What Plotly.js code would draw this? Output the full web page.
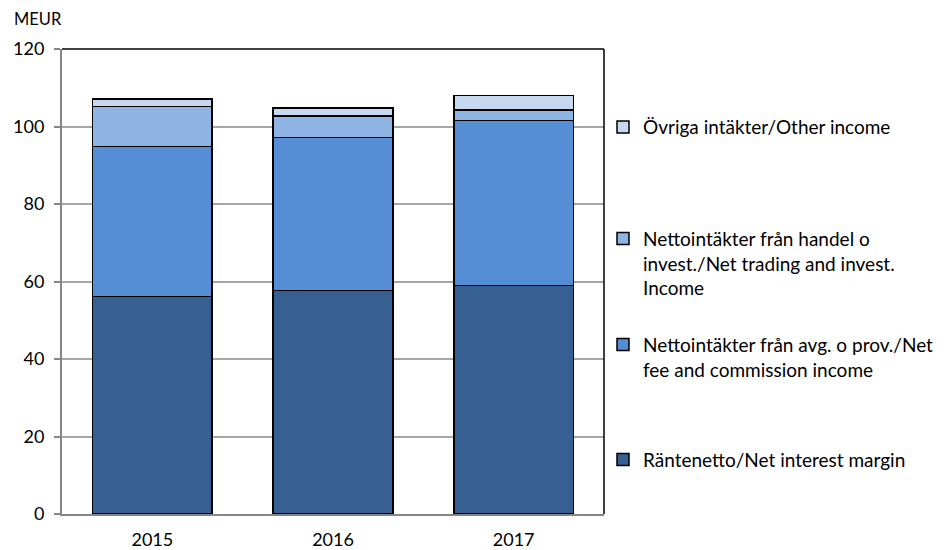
<!DOCTYPE html>
<html>
<head>
<meta charset="utf-8">
<script src="https://cdn.plot.ly/plotly-3.0.1.min.js"></script>
<style>html,body{margin:0;padding:0;background:#fff;}#chart{width:949px;height:550px;}</style>
</head>
<body>
<div id="chart"></div>
<script>
const years = ['2015', '2016', '2017'];
const interestMargin = [56.1, 57.7, 59.0];
const feeCommission = [38.7, 39.5, 42.5];
const tradingInvest = [10.3, 5.5, 2.8];
const otherIncome = [2.0, 2.1, 3.7];

const names = [
  'Räntenetto/Net interest margin',
  'Nettointäkter från avg. o prov./Net<br>fee and commission income',
  'Nettointäkter från handel o<br>invest./Net trading and invest.<br>Income',
  'Övriga intäkter/Other income'
];
const colors = ['#366092', '#558ED5', '#8EB4E3', '#C6D9F1'];
const series = [interestMargin, feeCommission, tradingInvest, otherIncome];
const legendIds = ['legend4', 'legend3', 'legend2', 'legend'];

const FONT = 'Lato, "Open Sans", sans-serif';

const traces = series.map((vals, i) => ({
  type: 'bar',
  x: years,
  y: vals,
  name: names[i],
  legend: legendIds[i],
  showlegend: true,
  marker: {color: colors[i], line: {color: '#000000', width: 1.5}},
  hoverinfo: 'x+y+name'
}));

const legendBase = {
  xref: 'container', x: 0.6354, xanchor: 'left', yanchor: 'top',
  bgcolor: 'rgba(0,0,0,0)',
  font: {family: FONT, size: 19, color: '#000'},
  valign: 'top',
  itemwidth: 30,
  tracegroupgap: 0,
  visible: true
};

const layout = {
  width: 949, height: 550,
  margin: {l: 62, r: 345, t: 49, b: 36, autoexpand: false},
  paper_bgcolor: '#fff', plot_bgcolor: '#fff',
  barmode: 'stack',
  bargap: 0.337,
  showlegend: true,
  font: {family: FONT, size: 18, color: '#000'},
  xaxis: {
    type: 'category',
    showline: true, linecolor: '#868686', linewidth: 2,
    ticks: '', showgrid: false,
    tickfont: {family: FONT, size: 18},
    ticklabelstandoff: 8
  },
  yaxis: {
    range: [0, 120], dtick: 20,
    showline: true, linecolor: '#868686', linewidth: 2,
    ticks: 'outside', ticklen: 6, tickcolor: '#868686', tickwidth: 1.5,
    showgrid: true, gridcolor: '#A6A6A6', gridwidth: 1.5,
    zeroline: false,
    tickfont: {family: FONT, size: 18},
    ticklabelstandoff: 6
  },
  legend: Object.assign({}, legendBase, {y: 0.873}),
  legend2: Object.assign({}, legendBase, {y: 0.633}),
  legend3: Object.assign({}, legendBase, {y: 0.405}),
  legend4: Object.assign({}, legendBase, {y: 0.158}),
  shapes: [
    {type: 'line', xref: 'paper', yref: 'paper', x0: 0, x1: 1, y0: 1, y1: 1, line: {color: '#000', width: 1.5}},
    {type: 'line', xref: 'paper', yref: 'paper', x0: 1, x1: 1, y0: 0, y1: 1, line: {color: '#000', width: 1.5}}
  ],
  annotations: [
    {text: 'MEUR', xref: 'paper', yref: 'paper', x: -0.092, y: 1.038, xanchor: 'left', yanchor: 'bottom', showarrow: false, font: {family: FONT, size: 16.5, color: '#000'}}
  ]
};

Plotly.newPlot('chart', traces, layout, {displayModeBar: false, responsive: false});
</script>
</body>
</html>
